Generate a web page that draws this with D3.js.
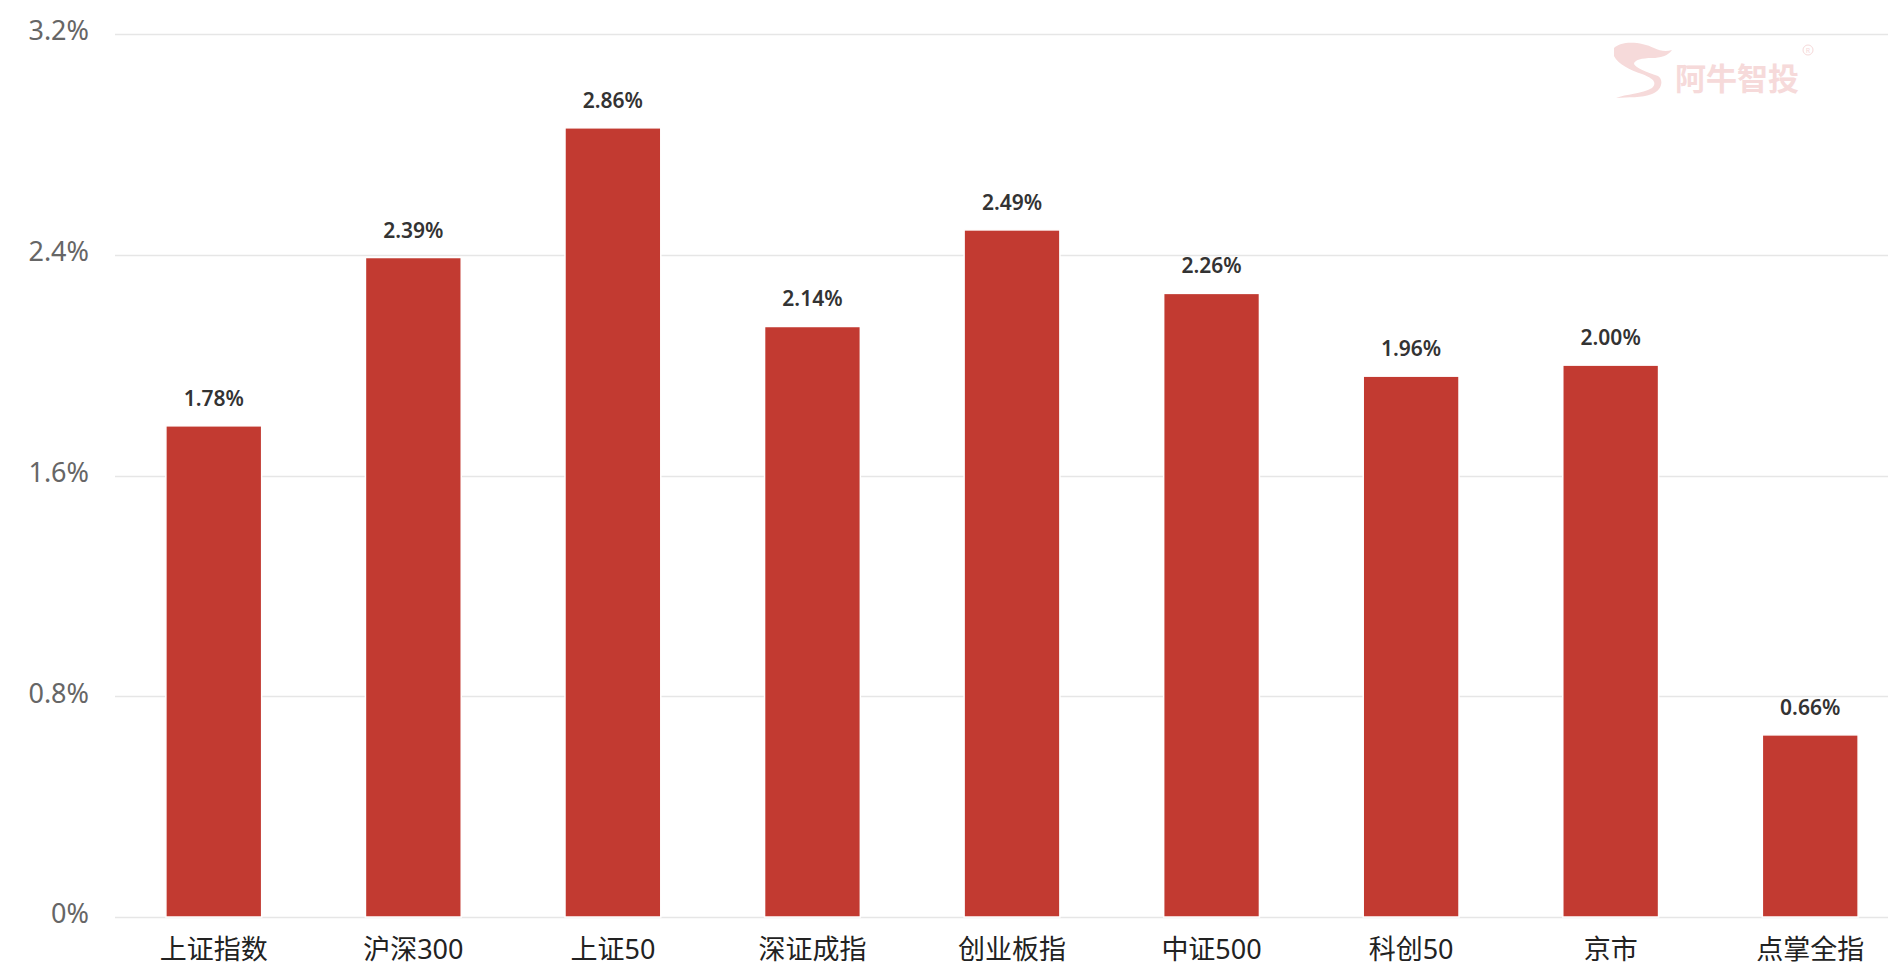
<!DOCTYPE html>
<html>
<head>
<meta charset="utf-8">
<script src="https://cdn.jsdelivr.net/npm/d3@7"></script>
<style>
  body { margin: 0; background: #fff; }
  svg { display: block; font-family: "Noto Sans", "Noto Sans CJK SC", sans-serif; }
</style>
</head>
<body>
<svg id="chart"></svg>
<script>
// data
var categories = ["上证指数", "沪深300", "上证50", "深证成指", "创业板指", "中证500", "科创50", "京市", "点掌全指"];
var values = [1.78, 2.39, 2.86, 2.14, 2.49, 2.26, 1.96, 2.00, 0.66];
var yTicks = [0, 0.8, 1.6, 2.4, 3.2];
var yTickLabels = ["0%", "0.8%", "1.6%", "2.4%", "3.2%"];

var W = 1888, H = 978;

var svg = d3.select("#chart")
    .attr("width", W)
    .attr("height", H);

var x = d3.scaleBand()
    .domain(categories)
    .range([114, 1910])
    .paddingInner(0.52)
    .paddingOuter(0.26);

var y = d3.scaleLinear()
    .domain([0, 3.2])
    .range([917, 34]);

// gridlines
svg.append("g")
    .selectAll("line")
    .data(yTicks)
    .enter().append("line")
    .attr("x1", 115)
    .attr("x2", W)
    .attr("y1", d => Math.round(y(d)) + 0.5)
    .attr("y2", d => Math.round(y(d)) + 0.5)
    .style("stroke", "#e6e6e6")
    .style("stroke-width", 1.5);

// y axis labels
svg.append("g")
    .selectAll("text")
    .data(yTicks)
    .enter().append("text")
    .attr("x", 89)
    .attr("y", d => y(d) - 3)
    .attr("dy", "0.35em")
    .attr("text-anchor", "end")
    .style("font-size", "27px")
    .style("fill", "#666")
    .text((d, i) => yTickLabels[i]);

// watermark
var wm = svg.append("g")
    .attr("transform", "translate(1612,42)")
    .style("opacity", 0.9);

wm.append("path")
    .attr("d", "M2,6 C10,-2 30,0 42,6 C48,9 54,10 60,8 C56,14 48,16 40,16 C30,16 22,18 22,22 C24,26 34,30 46,34 C52,38 50,48 40,52 C30,56 16,55 4,56 C14,52 30,52 40,46 C46,40 40,36 30,32 C18,28 6,22 2,14 Z")
    .style("fill", "#f6d6d6");

wm.append("text")
    .attr("x", 63)
    .attr("y", 48)
    .style("font-family", "Noto Sans CJK SC")
    .style("font-size", "31px")
    .style("font-weight", "700")
    .style("fill", "#f6d6d6")
    .text("阿牛智投");

wm.append("circle")
    .attr("cx", 196)
    .attr("cy", 8)
    .attr("r", 5)
    .style("fill", "none")
    .style("stroke", "#f6d6d6")
    .style("stroke-width", 1);

wm.append("text")
    .attr("x", 196)
    .attr("y", 11)
    .attr("text-anchor", "middle")
    .style("font-size", "7px")
    .style("fill", "#f6d6d6")
    .text("R");

// bars
svg.append("g")
    .selectAll("rect")
    .data(values)
    .enter().append("rect")
    .attr("x", (d, i) => x(categories[i]))
    .attr("y", d => y(d))
    .attr("width", x.bandwidth())
    .attr("height", d => y(0) - y(d))
    .style("fill", "#c23a31")
    .style("stroke", "#fff")
    .style("stroke-width", 1.5);

// value labels
svg.append("g")
    .selectAll("text")
    .data(values)
    .enter().append("text")
    .attr("x", (d, i) => x(categories[i]) + x.bandwidth() / 2)
    .attr("y", d => y(d) - 20)
    .attr("text-anchor", "middle")
    .style("font-size", "21px")
    .style("font-weight", "600")
    .style("fill", "#333")
    .text(d => d.toFixed(2) + "%");

// x axis labels
svg.append("g")
    .selectAll("text")
    .data(categories)
    .enter().append("text")
    .attr("x", d => x(d) + x.bandwidth() / 2)
    .attr("y", 959)
    .attr("text-anchor", "middle")
    .style("font-size", "27px")
    .style("fill", "#222")
    .text(d => d);
</script>
</body>
</html>
